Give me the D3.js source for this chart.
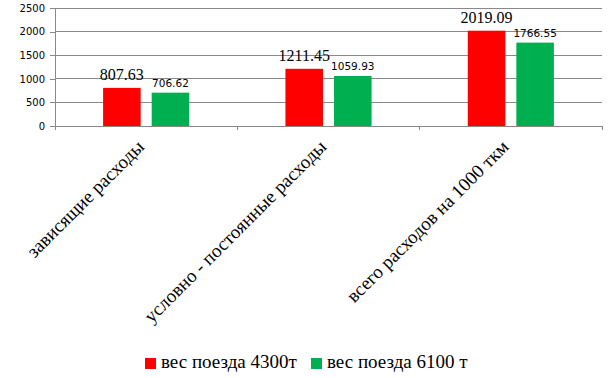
<!DOCTYPE html>
<html>
<head>
<meta charset="utf-8">
<script src="https://cdn.jsdelivr.net/npm/d3@7"></script>
<style>
  body { margin: 0; background: #fff; }
  svg { display: block; }
</style>
</head>
<body>
<div id="chart"></div>
<script>
// data
const categories = ['зависящие расходы', 'условно - постоянные расходы', 'всего расходов на 1000 ткм'];
const seriesNames = ['вес поезда 4300т', 'вес поезда 6100 т'];
const values4300 = [807.63, 1211.45, 2019.09];
const values6100 = [706.62, 1059.93, 1766.55];
const yTicks = [0, 500, 1000, 1500, 2000, 2500];
const colors = ['#ff0000', '#00b050'];

const width = 613;
const height = 378;
const margin = { left: 55, right: 11, top: 8, bottom: 252 };

const svg = d3.select('#chart')
  .append('svg')
  .attr('width', width)
  .attr('height', height);

const x0 = d3.scaleBand()
  .domain(categories)
  .range([margin.left, width - margin.right])
  .padding(0);

const x1 = d3.scaleBand()
  .domain(seriesNames)
  .range([0, x0.bandwidth()])
  .paddingInner(0.227)
  .paddingOuter(0.99);

const y = d3.scaleLinear()
  .domain([0, 2500])
  .range([height - margin.bottom, margin.top]);

// gridlines
svg.append('g')
  .selectAll('line')
  .data(yTicks.slice(1))
  .join('line')
  .attr('x1', margin.left)
  .attr('x2', width - margin.right)
  .attr('y1', d => y(d))
  .attr('y2', d => y(d))
  .attr('stroke', '#898989')
  .attr('stroke-width', 1)
  .attr('shape-rendering', 'crispEdges');

// y axis
const yAxis = svg.append('g')
  .attr('transform', `translate(${margin.left},0)`)
  .call(d3.axisLeft(y).tickValues(yTicks).tickSize(5).tickPadding(5).tickFormat(d3.format('d')));
yAxis.select('.domain')
  .attr('d', `M0,${y(2500)}V${y(0) + 4}`)
  .attr('stroke', '#898989')
  .attr('shape-rendering', 'crispEdges');
yAxis.selectAll('.tick line').attr('stroke', '#898989').attr('shape-rendering', 'crispEdges');
yAxis.selectAll('.tick text')
  .attr('fill', '#000')
  .style('font-family', '"DejaVu Sans", sans-serif')
  .style('font-size', '10px');

// x axis line and boundary ticks
const bounds = categories.map(c => x0(c)).concat([x0(categories[categories.length - 1]) + x0.bandwidth()]);
svg.append('line')
  .attr('x1', margin.left)
  .attr('x2', width - margin.right)
  .attr('y1', y(0))
  .attr('y2', y(0))
  .attr('stroke', '#898989')
  .attr('shape-rendering', 'crispEdges');
svg.append('g')
  .selectAll('line')
  .data(bounds)
  .join('line')
  .attr('x1', d => d)
  .attr('x2', d => d)
  .attr('y1', y(0))
  .attr('y2', y(0) + 4)
  .attr('stroke', '#898989')
  .attr('shape-rendering', 'crispEdges');

// bars
const rows = categories.map((c, i) => ({
  category: c,
  vals: [values4300[i], values6100[i]]
}));

const groups = svg.append('g')
  .selectAll('g')
  .data(rows)
  .join('g')
  .attr('transform', d => `translate(${x0(d.category)},0)`);

groups.selectAll('rect')
  .data(d => d.vals.map((v, j) => ({ name: seriesNames[j], value: v, idx: j })))
  .join('rect')
  .attr('x', d => x1(d.name))
  .attr('width', x1.bandwidth())
  .attr('y', d => y(d.value))
  .attr('height', d => y(0) - y(d.value))
  .attr('fill', d => colors[d.idx]);

// data labels
groups.selectAll('text')
  .data(d => d.vals.map((v, j) => ({ name: seriesNames[j], value: v, idx: j })))
  .join('text')
  .attr('x', d => x1(d.name) + x1.bandwidth() / 2)
  .attr('y', d => y(d.value) - (d.idx === 0 ? 7.5 : 6))
  .attr('text-anchor', 'middle')
  .style('font-family', d => d.idx === 0 ? '"Liberation Serif", serif' : '"DejaVu Sans", sans-serif')
  .style('font-size', d => d.idx === 0 ? '16px' : '10.5px')
  .attr('fill', '#000')
  .text(d => d.value.toFixed(2));

// category labels
svg.append('g')
  .selectAll('text')
  .data(categories)
  .join('text')
  .attr('transform', d => `translate(${x0(d) + x0.bandwidth() / 2 - 1},${y(0) + 22}) rotate(-45)`)
  .attr('text-anchor', 'end')
  .style('font-family', '"Liberation Serif", serif')
  .style('font-size', '19px')
  .attr('fill', '#000')
  .text(d => d);

// legend
const legend = svg.append('g')
  .attr('transform', `translate(145,${height - 18})`);
const legendX = [0, 166];
const items = legend.selectAll('g')
  .data(seriesNames)
  .join('g')
  .attr('transform', (d, i) => `translate(${legendX[i]},0)`);
items.append('rect')
  .attr('width', 11)
  .attr('height', 11)
  .attr('y', -2)
  .attr('fill', (d, i) => colors[i]);
items.append('text')
  .attr('x', 16)
  .attr('y', 8)
  .style('font-family', '"Liberation Serif", serif')
  .style('font-size', '19px')
  .attr('fill', '#000')
  .text(d => d);
</script>
</body>
</html>
